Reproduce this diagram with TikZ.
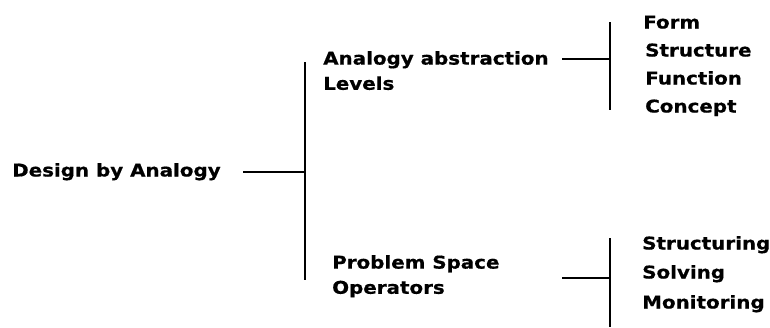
\documentclass[tikz,border=0pt]{standalone}
\usepackage{fontspec}
\setmainfont[FakeStretch=1.13, BoldFeatures={FakeBold=0.6}]{DejaVu Sans}
\begin{document}
\begin{tikzpicture}[
  x=0.03cm, y=-0.03cm,
  lbl/.style={anchor=base west, inner sep=0pt, align=left, font=\fontsize{15}{21.5}\selectfont\bfseries},
  bar/.style={line width=1pt},
  >=stealth
]
\useasboundingbox (0,0) rectangle (770,327);

% root and first level
\node[lbl] (root) at (12,176.5) {Design by Analogy};
\node[lbl, anchor=north west] (abs) at (323,51) {Analogy abstraction\\Levels};
\node[lbl, anchor=north west] (ops) at (332,255) {Problem Space\\Operators};

% leaves
\node[lbl] (form)   at (643,28.5)  {Form};
\node[lbl] (struct) at (645,56.5)  {Structure};
\node[lbl] (func)   at (645,84.5)  {Function};
\node[lbl] (conc)   at (645,112.5) {Concept};
\node[lbl] (strg)   at (642,249.5) {Structuring};
\node[lbl] (solv)   at (642,278.5) {Solving};
\node[lbl] (mon)    at (642,308.5) {Monitoring};

% bars
\coordinate (b1t) at (305,62);
\coordinate (b1b) at (305,280);
\coordinate (b2t) at (610,22);
\coordinate (b2b) at (610,110);
\coordinate (b3t) at (610,238);
\coordinate (b3b) at (610,327);
\draw[bar] (b1t) -- (b1b);
\draw[bar] (b2t) -- (b2b);
\draw[bar] (b3t) -- (b3b);

% connectors
\draw[bar] (243,172) coordinate (r1) -- (r1 -| b1t);
\draw[bar] (562,59) coordinate (a1) -- (a1 -| b2t);
\draw[bar] (562,278) coordinate (o1) -- (o1 -| b3t);
\end{tikzpicture}
\end{document}
